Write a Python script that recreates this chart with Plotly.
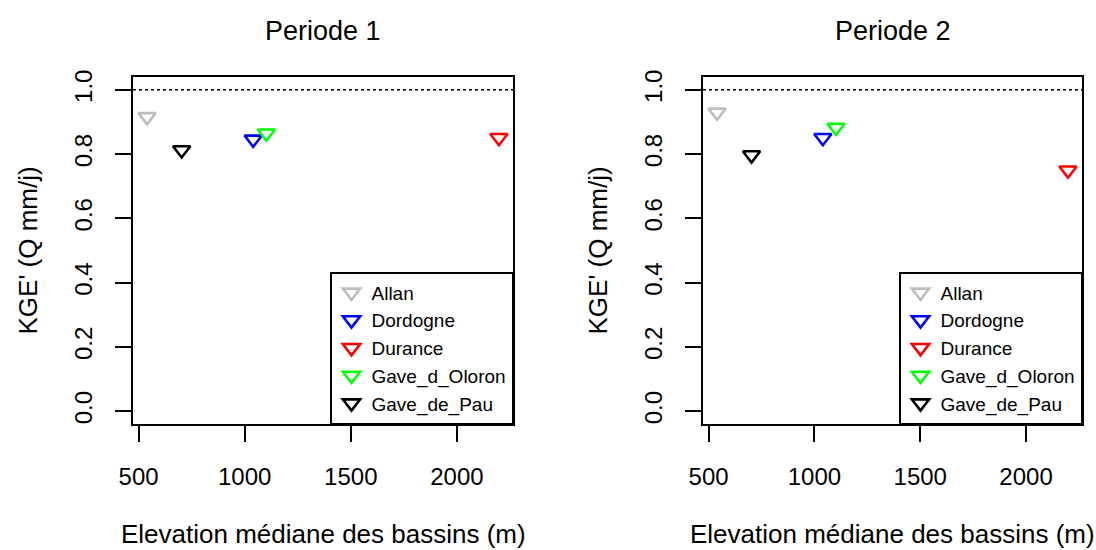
import plotly.graph_objects as go

# ---- data ----
basins = ["Allan", "Dordogne", "Durance", "Gave_d_Oloron", "Gave_de_Pau"]
colors = ["#BEBEBE", "#0000FF", "#FF0000", "#00FF00", "#000000"]
elevation = [540, 1040, 2198, 1102, 703]
kge_p1 = [0.916, 0.846, 0.851, 0.865, 0.813]
kge_p2 = [0.930, 0.851, 0.750, 0.883, 0.797]
periods = ["Periode 1", "Periode 2"]
x_ticks = [500, 1000, 1500, 2000]
y_ticks = [0.0, 0.2, 0.4, 0.6, 0.8, 1.0]
ref_value = 1.0
x_title = "Elevation médiane des bassins (m)"
y_title = "KGE' (Q mm/j)"

FONT = "Liberation Sans, Arial, sans-serif"
W, H = 1096, 550

# R-style 4% range extension
xmin, xmax = min(elevation), max(elevation)
dx = 0.04 * (xmax - xmin)
xr = [xmin - dx, xmax + dx]
yr = [0 - 0.04, 1 + 0.04]

fig = go.Figure()

panels = [("x", "y", "legend", kge_p1), ("x2", "y2", "legend2", kge_p2)]
for xa, ya, lg, vals in panels:
    for name, col, ex, v in zip(basins, colors, elevation, vals):
        fig.add_trace(go.Scatter(
            x=[ex], y=[v], mode="markers", name=name,
            xaxis=xa, yaxis=ya, legend=lg,
            marker=dict(symbol="triangle-down-open", size=15, color=col,
                        line=dict(width=2.6, color=col)),
        ))

# panel boxes in pixels
boxes = [(133, 513), (703, 1082)]
top_px, bot_px = 77, 424
ydom = [1 - bot_px / H, 1 - top_px / H]

axis_common = dict(showline=True, mirror=True, linecolor="black", linewidth=1.5,
                   ticks="outside", ticklen=16, tickwidth=1.5, tickcolor="black",
                   showgrid=False, zeroline=False, automargin=False)

for i, (l, r) in enumerate(boxes):
    sfx = "" if i == 0 else str(i + 1)
    fig.layout["xaxis" + sfx] = dict(
        domain=[l / W, r / W], range=xr, anchor="y" + sfx,
        tickvals=x_ticks, ticktext=[str(t) for t in x_ticks],
        tickfont=dict(family=FONT, size=24, color="black"),
        ticklabelstandoff=14, **axis_common)
    fig.layout["yaxis" + sfx] = dict(
        domain=ydom, range=yr, anchor="x" + sfx,
        tickvals=y_ticks, ticktext=[f"{t:.1f}" for t in y_ticks], tickangle=-90,
        tickfont=dict(family=FONT, size=24, color="black"),
        ticklabelstandoff=14, **axis_common)
    cx = (l + r) / 2 / W
    fig.add_annotation(text=periods[i], x=cx, y=1 - 31 / H, xref="paper", yref="paper",
                       showarrow=False, xanchor="center", yanchor="middle",
                       font=dict(family=FONT, size=27, color="black"))
    fig.add_annotation(text=x_title, x=cx, y=1 - 534 / H, xref="paper", yref="paper",
                       showarrow=False, xanchor="center", yanchor="middle",
                       font=dict(family=FONT, size=26, color="black"))
    fig.add_annotation(text=y_title, x=(l - 106) / W, y=(ydom[0] + ydom[1]) / 2,
                       xref="paper", yref="paper", textangle=-90,
                       showarrow=False, xanchor="center", yanchor="middle",
                       font=dict(family=FONT, size=26, color="black"))
    fig.add_shape(type="line", xref="x" + sfx + " domain", yref="y" + sfx,
                  x0=0, x1=1, y0=ref_value, y1=ref_value,
                  line=dict(color="black", width=1.5, dash="dot"))

legend_common = dict(bgcolor="white", bordercolor="black", borderwidth=1.5,
                     font=dict(family=FONT, size=19, color="black"),
                     xanchor="right", yanchor="bottom", y=1 - bot_px / H,
                     tracegroupgap=0, traceorder="normal")
fig.update_layout(
    width=W, height=H, margin=dict(l=0, r=0, t=0, b=0, autoexpand=False),
    paper_bgcolor="white", plot_bgcolor="white",
    legend=dict(x=boxes[0][1] / W, **legend_common),
    legend2=dict(x=boxes[1][1] / W, **legend_common),
    font=dict(family=FONT, color="black"),
)

fig.write_html("out.html")
